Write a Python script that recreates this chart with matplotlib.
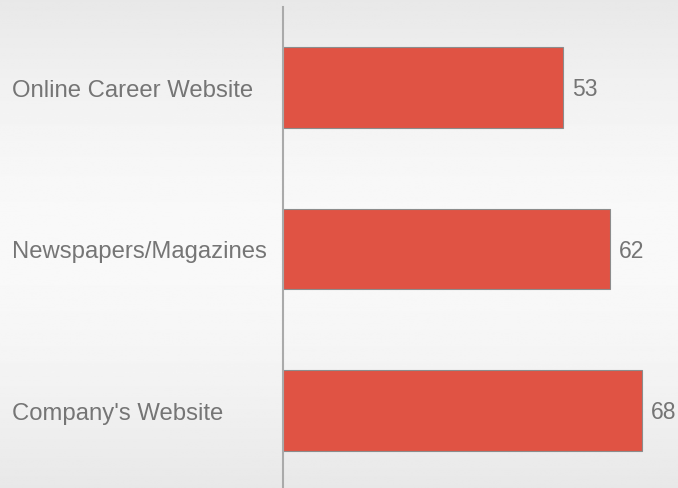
import numpy as np
import matplotlib.pyplot as plt

categories = ["Online Career Website", "Newspapers/Magazines", "Company's Website"]
values = [53, 62, 68]

plt.rcParams['font.family'] = ['Liberation Sans', 'DejaVu Sans']

W, H = 678, 489
fig = plt.figure(figsize=(W / 100, H / 100), dpi=100)

# soft vertical gradient behind everything
bg = fig.add_axes([0, 0, 1, 1], zorder=0)
t = np.linspace(0, 1, 256)
shade = 0.91 + 0.065 * np.sin(np.pi * t)
bg.imshow(np.tile(shade[:, None], (1, 2)), cmap='gray', vmin=0, vmax=1,
          aspect='auto', extent=[0, 1, 0, 1])
bg.axis('off')

ax = fig.add_axes([283 / W, 0, 1 - 283 / W, 481 / H], zorder=1)
ax.patch.set_alpha(0)
y = np.arange(len(categories))
ax.barh(y, values, height=0.5, color='#e05344', edgecolor='#8c8c8c', linewidth=0.8)
ax.set_xlim(0, (W - 283) / 5.28)
ax.set_ylim(2.48, -0.5)

for yi, v in zip(y, values):
    ax.annotate(str(v), (v, yi), xytext=(9, -1), textcoords='offset pixels',
                va='center', ha='left', fontsize=16.5, color='#757575')
    ax.annotate(categories[yi], (0, yi), xycoords=('figure pixels', 'data'),
                xytext=(12, -2), textcoords='offset pixels',
                va='center', ha='left', fontsize=17.2, color='#757575')

for s in ['top', 'right', 'bottom']:
    ax.spines[s].set_visible(False)
ax.spines['left'].set_color('#aaaaaa')
ax.spines['left'].set_linewidth(1.5)
ax.set_xticks([])
ax.set_yticks([])

fig.savefig('out.png', dpi=100)
